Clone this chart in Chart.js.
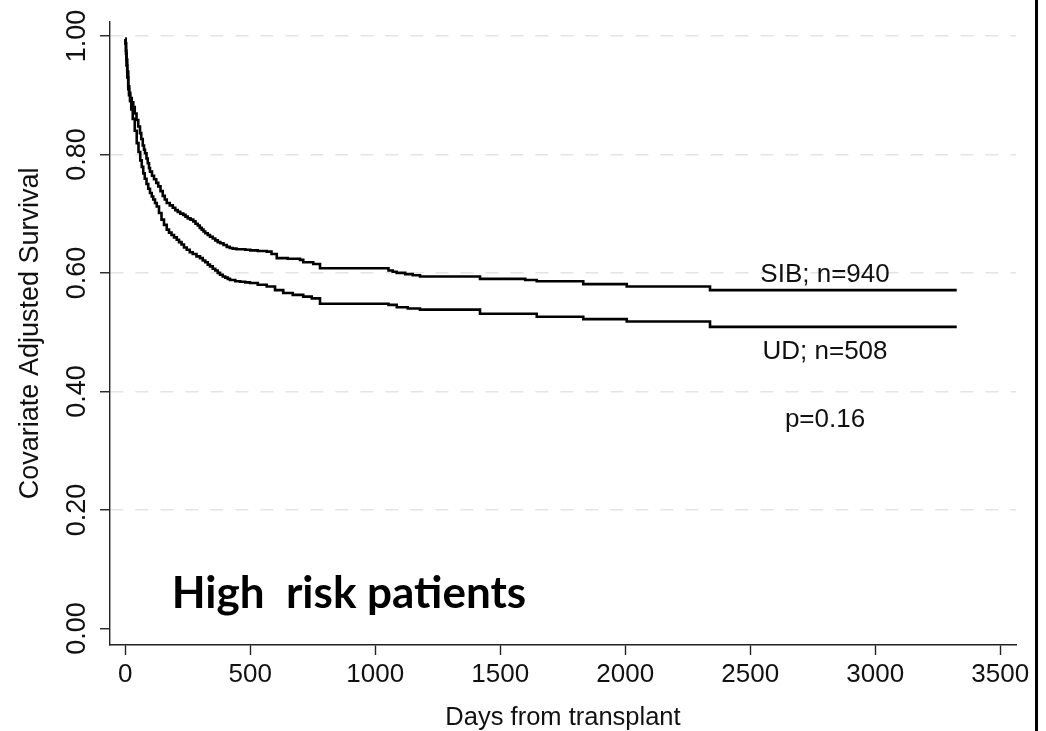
<!DOCTYPE html>
<html>
<head>
<meta charset="utf-8">
<script src="https://cdn.jsdelivr.net/npm/chart.js@4.4.1/dist/chart.umd.min.js"></script>
<style>
  html, body { margin: 0; padding: 0; background: #fff; }
  #wrap { position: relative; width: 1046px; height: 731px; overflow: hidden; }
  #edge { position: absolute; left: 1035px; top: 0; width: 2.5px; height: 731px; background: #000; }
</style>
</head>
<body>
<div id="wrap">
  <canvas id="c" width="1046" height="731"></canvas>
  <div id="edge"></div>
</div>
<script>
// ---- data ----
const sibDays = [0, 1, 3, 5, 8, 12, 16, 20, 26, 32, 38, 45, 52, 59, 64, 70, 75, 79, 85, 90, 95, 99, 107, 115, 124, 132, 141, 150, 158, 166, 178, 190, 200, 210, 220, 232, 241, 250, 261, 272, 281, 290, 298, 306, 313, 320, 330, 339, 350, 360, 370, 380, 393, 406, 418, 430, 445, 460, 480, 500, 530, 566, 585, 606, 650, 699, 712, 752, 779, 1053, 1070, 1086, 1120, 1150, 1179, 1419, 1600, 1646, 1832, 2006, 2339, 3326];
const sibSurv = [0.995, 0.988, 0.975, 0.960, 0.940, 0.915, 0.904, 0.895, 0.888, 0.880, 0.869, 0.858, 0.847, 0.836, 0.826, 0.815, 0.808, 0.802, 0.793, 0.785, 0.777, 0.771, 0.764, 0.758, 0.752, 0.746, 0.738, 0.730, 0.724, 0.718, 0.714, 0.710, 0.706, 0.703, 0.700, 0.698, 0.695, 0.692, 0.690, 0.687, 0.683, 0.680, 0.676, 0.673, 0.670, 0.667, 0.664, 0.661, 0.658, 0.655, 0.652, 0.650, 0.647, 0.644, 0.642, 0.641, 0.640, 0.640, 0.639, 0.638, 0.637, 0.636, 0.632, 0.625, 0.624, 0.622, 0.618, 0.615, 0.608, 0.604, 0.602, 0.600, 0.598, 0.596, 0.594, 0.590, 0.588, 0.586, 0.581, 0.577, 0.571, 0.571];

const udDays = [0, 1, 3, 5, 8, 12, 15, 19, 24, 30, 38, 46, 53, 60, 66, 72, 78, 85, 92, 99, 106, 112, 119, 126, 135, 145, 155, 166, 175, 185, 195, 206, 215, 225, 235, 246, 258, 270, 285, 299, 310, 320, 330, 339, 350, 360, 370, 379, 390, 400, 410, 419, 440, 460, 480, 499, 530, 566, 599, 632, 670, 712, 746, 779, 1053, 1086, 1130, 1179, 1419, 1646, 1832, 2006, 2339, 3326];
const udSurv = [0.995, 0.987, 0.970, 0.950, 0.930, 0.910, 0.900, 0.890, 0.876, 0.860, 0.840, 0.819, 0.804, 0.790, 0.779, 0.768, 0.759, 0.750, 0.742, 0.735, 0.729, 0.724, 0.718, 0.712, 0.701, 0.690, 0.681, 0.673, 0.668, 0.664, 0.660, 0.656, 0.652, 0.648, 0.643, 0.639, 0.635, 0.632, 0.628, 0.625, 0.621, 0.618, 0.614, 0.611, 0.607, 0.604, 0.600, 0.597, 0.594, 0.592, 0.590, 0.588, 0.586, 0.585, 0.584, 0.583, 0.580, 0.577, 0.571, 0.566, 0.563, 0.560, 0.557, 0.548, 0.546, 0.542, 0.540, 0.538, 0.531, 0.526, 0.522, 0.518, 0.509, 0.509];

const xTicks = [0, 500, 1000, 1500, 2000, 2500, 3000, 3500];
const yTicks = [0.0, 0.2, 0.4, 0.6, 0.8, 1.0];

const xTitle = 'Days from transplant';
const yTitle = 'Covariate Adjusted Survival';

// annotation texts: [text, day, survival (baseline)]
const noteTexts = ['SIB; n=940', 'UD; n=508', 'p=0.16'];
const noteDays = [2799, 2799, 2799];
const noteVals = [0.585, 0.454, 0.340];
const panelLabel = 'High  risk patients';
const panelDay = 186;
const panelVal = 0.034;

// ---- build ----
const toXY = (xs, ys) => xs.map((x, i) => ({ x: x, y: ys[i] }));
const FONT = '"Liberation Sans", Arial, Helvetica, sans-serif';

const notesPlugin = {
  id: 'notes',
  afterDatasetsDraw(chart) {
    const { ctx, scales } = chart;
    ctx.save();
    ctx.fillStyle = '#111';
    ctx.textBaseline = 'alphabetic';
    ctx.textAlign = 'center';
    ctx.font = '26px ' + FONT;
    noteTexts.forEach((t, i) => {
      ctx.fillText(t, scales.x.getPixelForValue(noteDays[i]), scales.y.getPixelForValue(noteVals[i]));
    });
    ctx.textAlign = 'left';
    ctx.fillStyle = '#000';
    ctx.font = 'bold 44px Lato, "Open Sans", sans-serif';
    ctx.fillText(panelLabel, scales.x.getPixelForValue(panelDay), scales.y.getPixelForValue(panelVal));
    ctx.restore();
  }
};

new Chart(document.getElementById('c'), {
  type: 'line',
  data: {
    datasets: [
      { label: 'SIB', data: toXY(sibDays, sibSurv), borderColor: '#000', borderWidth: 2.6, pointRadius: 0, stepped: true, fill: false },
      { label: 'UD', data: toXY(udDays, udSurv), borderColor: '#000', borderWidth: 2.6, pointRadius: 0, stepped: true, fill: false }
    ]
  },
  options: {
    responsive: false,
    animation: false,
    devicePixelRatio: 1,
    layout: { padding: { left: 0, top: 21.7, right: 30, bottom: 0 } },
    plugins: { legend: { display: false }, tooltip: { enabled: false } },
    scales: {
      x: {
        type: 'linear',
        min: -61,
        max: 3563,
        afterBuildTicks: (s) => { s.ticks = xTicks.map(v => ({ value: v })); },
        afterFit: (s) => { s.height = 86; },
        ticks: {
          color: '#111',
          font: { family: FONT, size: 26 },
          padding: 4.4,
          maxRotation: 0,
          minRotation: 0,
          callback: (v) => String(v)
        },
        grid: { display: true, drawOnChartArea: false, drawTicks: true, tickLength: 10, tickColor: '#222', tickWidth: 1.4 },
        border: { display: true, color: '#222', width: 1.4 },
        title: { display: true, text: xTitle, color: '#111', font: { family: FONT, size: 25.5, lineHeight: 1 }, padding: { top: 0, bottom: 0 } }
      },
      y: {
        type: 'linear',
        min: -0.028,
        max: 1.024,
        afterBuildTicks: (s) => { s.ticks = yTicks.map(v => ({ value: v })); },
        afterFit: (s) => { s.width = 110; },
        ticks: {
          color: '#111',
          font: { family: FONT, size: 27 },
          minRotation: 90,
          maxRotation: 90,
          crossAlign: 'center',
          padding: -4.3,
          callback: (v) => Number(v).toFixed(2)
        },
        grid: {
          display: true,
          drawOnChartArea: true,
          drawTicks: true,
          tickLength: 10,
          tickColor: '#222',
          tickWidth: 1.4,
          lineWidth: 1.5,
          color: (c) => (c.tick && c.tick.value > 0 ? '#e4e4e4' : 'rgba(0,0,0,0)')
        },
        border: { display: true, color: '#222', width: 1.4, dash: [13, 12] },
        title: { display: true, text: yTitle, color: '#111', font: { family: FONT, size: 27, lineHeight: 1 }, padding: { top: 17.5, bottom: 0 } }
      }
    }
  },
  plugins: [notesPlugin]
});
</script>
</body>
</html>
